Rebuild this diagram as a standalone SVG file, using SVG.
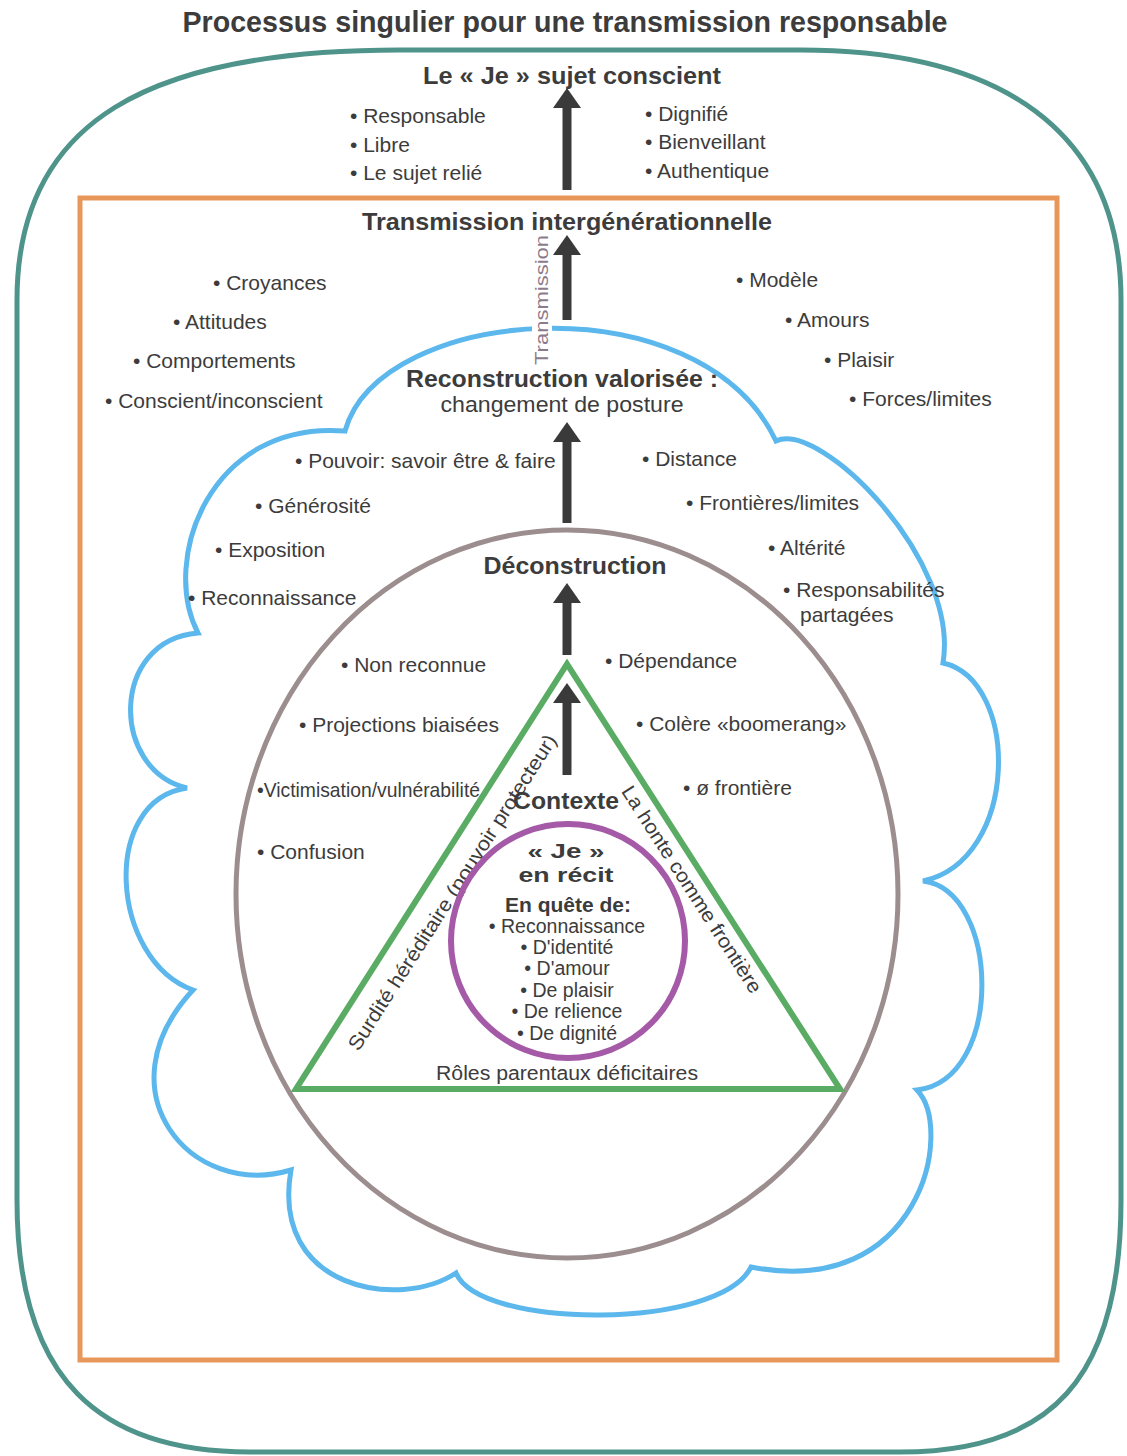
<svg xmlns="http://www.w3.org/2000/svg" width="1127" height="1456" viewBox="0 0 1127 1456">
<style>
text{font-family:"Liberation Sans",Arial,sans-serif;fill:#3c3c3c;font-size:21px}
.h{font-weight:bold;font-size:24px;text-anchor:middle}
.c{text-anchor:middle}
.s{font-size:19.5px}
.ar{stroke:#3a3a3a;stroke-width:9;fill:none}
</style>
<defs>
<marker id="head" markerUnits="userSpaceOnUse" markerWidth="20" markerHeight="28" viewBox="0 0 20 28" refX="0" refY="14" orient="auto">
<path d="M0,0 L20,14 L0,28 Z" fill="#3a3a3a"/>
</marker>
</defs>
<rect width="1127" height="1456" fill="#ffffff"/>

<g id="title">
<text x="565" y="32" class="h" style="font-size:30px" textLength="765" lengthAdjust="spacingAndGlyphs">Processus singulier pour une transmission responsable</text>
</g>

<g id="je-sujet-conscient">
<path d="M17,1200 L17,300 C17,120 150,50 400,50 L800,50 C1000,50 1121,130 1121,300 L1121,1200 C1121,1380 1050,1452 900,1452 L250,1452 C100,1452 17,1380 17,1200 Z" fill="none" stroke="#4f948b" stroke-width="5"/>
<text x="572" y="84" class="h" textLength="298" lengthAdjust="spacingAndGlyphs">Le « Je » sujet conscient</text>
<text x="350" y="123">• Responsable</text>
<text x="350" y="152">• Libre</text>
<text x="350" y="180">• Le sujet relié</text>
<text x="645" y="121">• Dignifié</text>
<text x="645" y="149">• Bienveillant</text>
<text x="645" y="178">• Authentique</text>
</g>

<g id="transmission-intergenerationnelle">
<rect x="80" y="198" width="977" height="1162" fill="none" stroke="#e8975a" stroke-width="5"/>
<text x="567" y="230" class="h" textLength="410" lengthAdjust="spacingAndGlyphs">Transmission intergénérationnelle</text>
<text x="213" y="290">• Croyances</text>
<text x="173" y="329">• Attitudes</text>
<text x="133" y="368">• Comportements</text>
<text x="105" y="408">• Conscient/inconscient</text>
<text x="736" y="287">• Modèle</text>
<text x="785" y="327">• Amours</text>
<text x="824" y="367">• Plaisir</text>
<text x="849" y="406">• Forces/limites</text>
</g>

<g id="reconstruction-valorisee">
<path d="M345,431 C380,305 700,280 776,441 C820,420 960,560 943,663 C1020,680 1020,860 923,881 C1000,890 1005,1080 917,1090 C955,1130 920,1300 751,1267 C720,1330 480,1330 456,1273 C400,1310 270,1290 291,1170 C190,1200 100,1090 193,990 C110,960 100,800 187,788 C110,770 110,640 198,633 C160,560 210,420 345,431 Z" fill="none" stroke="#5bb7ec" stroke-width="5"/>
<rect x="532" y="314" width="20" height="26" fill="#ffffff"/>
<text transform="translate(548,365) rotate(-90)" style="font-size:18px;fill:#8c7b8c" textLength="130" lengthAdjust="spacingAndGlyphs">Transmission</text>
<text x="562" y="387" class="h" textLength="312" lengthAdjust="spacingAndGlyphs">Reconstruction valorisée :</text>
<text x="562" y="412" class="c" style="font-size:22px" textLength="243" lengthAdjust="spacingAndGlyphs">changement de posture</text>
<text x="295" y="468">• Pouvoir: savoir être &amp; faire</text>
<text x="255" y="513">• Générosité</text>
<text x="215" y="557">• Exposition</text>
<text x="188" y="605">• Reconnaissance</text>
<text x="642" y="466">• Distance</text>
<text x="686" y="510">• Frontières/limites</text>
<text x="768" y="555">• Altérité</text>
<text x="783" y="597">• Responsabilités</text>
<text x="800" y="622">partagées</text>
</g>

<g id="deconstruction">
<ellipse cx="567" cy="894" rx="331" ry="364" fill="none" stroke="#9c8d8e" stroke-width="5"/>
<text x="575" y="574" class="h" textLength="183" lengthAdjust="spacingAndGlyphs">Déconstruction</text>
<text x="341" y="672">• Non reconnue</text>
<text x="299" y="732">• Projections biaisées</text>
<text x="257" y="797" textLength="223" lengthAdjust="spacingAndGlyphs">•Victimisation/vulnérabilité</text>
<text x="257" y="859">• Confusion</text>
<text x="605" y="668">• Dépendance</text>
<text x="636" y="731">• Colère «boomerang»</text>
<text x="683" y="795">• ø frontière</text>
</g>

<g id="contexte">
<polygon points="567,664 296,1089 840,1089" fill="none" stroke="#5aac64" stroke-width="6"/>
<text x="566" y="809" class="h" textLength="106" lengthAdjust="spacingAndGlyphs">Contexte</text>
<text transform="translate(458,896) rotate(-57.5)" class="c" style="font-size:20px" textLength="370" lengthAdjust="spacingAndGlyphs">Surdité héréditaire (pouvoir protecteur)</text>
<text transform="translate(686,893) rotate(57.3)" class="c" style="font-size:20px" textLength="242" lengthAdjust="spacingAndGlyphs">La honte comme frontière</text>
<text x="567" y="1080" class="c" style="font-size:20px" textLength="262" lengthAdjust="spacingAndGlyphs">Rôles parentaux déficitaires</text>
</g>

<g id="je-en-recit">
<circle cx="568" cy="941" r="117" fill="none" stroke="#a55aa8" stroke-width="6"/>
<text x="566" y="858" class="h" style="font-size:21px" textLength="77" lengthAdjust="spacingAndGlyphs">« Je »</text>
<text x="566" y="882" class="h" style="font-size:21px" textLength="95" lengthAdjust="spacingAndGlyphs">en récit</text>
<text x="568" y="912" class="h" style="font-size:20px" textLength="126" lengthAdjust="spacingAndGlyphs">En quête de:</text>
<text x="567" y="933" class="c s">• Reconnaissance</text>
<text x="567" y="954" class="c s">• D'identité</text>
<text x="567" y="975" class="c s">• D'amour</text>
<text x="567" y="997" class="c s">• De plaisir</text>
<text x="567" y="1018" class="c s">• De relience</text>
<text x="567" y="1040" class="c s">• De dignité</text>
</g>

<g id="connectors">
<line class="ar" x1="567" y1="190" x2="567" y2="108" marker-end="url(#head)"/>
<line class="ar" x1="567" y1="320" x2="567" y2="255" marker-end="url(#head)"/>
<line class="ar" x1="567" y1="523" x2="567" y2="442" marker-end="url(#head)"/>
<line class="ar" x1="567" y1="655" x2="567" y2="603" marker-end="url(#head)"/>
<line class="ar" x1="567" y1="775" x2="567" y2="703" marker-end="url(#head)"/>
</g>
</svg>
